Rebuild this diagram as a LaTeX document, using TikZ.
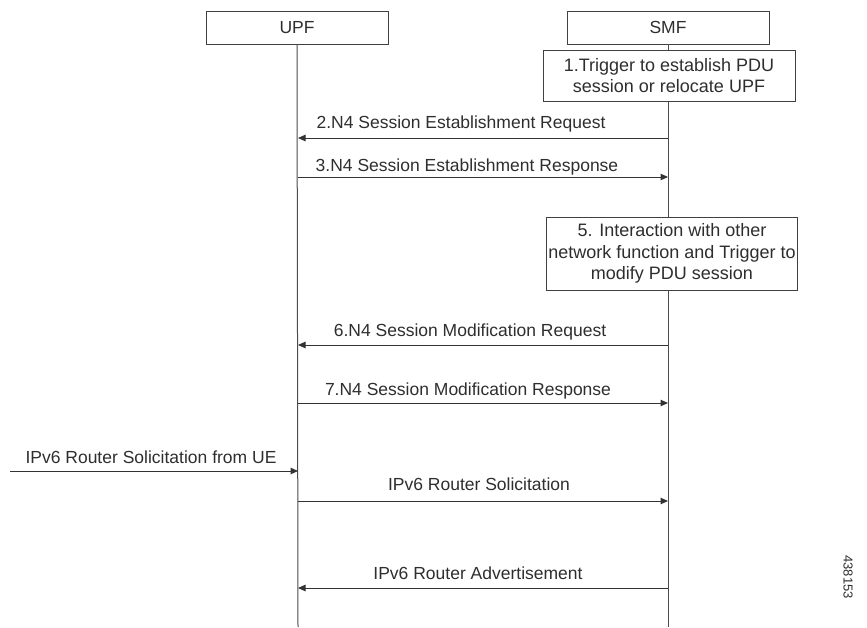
\documentclass[tikz,border=0pt]{standalone}
\usepackage{fontspec}
\setmainfont{Liberation Sans}
\usetikzlibrary{arrows.meta}
\begin{document}
\begin{tikzpicture}[x=1pt,y=-1pt,
  every node/.style={font=\fontsize{17.5}{21}\selectfont, text=black!82},
  actor/.style={draw=black!75, line width=0.9pt, fill=white, minimum height=33pt, inner sep=0pt},
  stepbox/.style={draw=black!75, line width=0.9pt, fill=white, align=center, inner sep=2pt, font=\fontsize{18}{21.5}\selectfont},
  life/.style={draw=black!70, line width=1pt},
  msg/.style={draw=black!80, line width=1pt, -{Triangle[length=7.5pt,width=6.5pt]}},
  lbl/.style={inner sep=0pt, anchor=base}]
\useasboundingbox (0,0) rectangle (867,627);
% lifelines
\coordinate (ubot) at (298,627);
\coordinate (sbot) at (668,627);
\node[actor, minimum width=182pt] (upf) at (297,27.5) {UPF};
\node[actor, minimum width=202pt] (smf) at (668,27.5) {SMF};
\draw[life] (upf.south) -- (ubot);
\draw[life] (smf.south) -- (sbot);
\node[stepbox, minimum width=252pt, minimum height=51pt] (s1) at (669,75.5) {1.Trigger to establish PDU\\session or relocate UPF};
\node[stepbox, minimum width=248pt, minimum height=73pt] (s5) at (672,253.5) {5. Interaction with other\\network function and Trigger to\\modify PDU session};
% message anchors
\coordinate (u2) at (298,138); \coordinate (m2) at (668,138);
\coordinate (u3) at (298,177); \coordinate (m3) at (668,177);
\coordinate (u6) at (298,345); \coordinate (m6) at (668,345);
\coordinate (u7) at (298,403); \coordinate (m7) at (668,403);
\coordinate (ue) at (10,471);  \coordinate (uin) at (298,471);
\coordinate (u8) at (298,501); \coordinate (m8) at (668,501);
\coordinate (u9) at (298,588); \coordinate (m9) at (668,588);
\draw[msg] (m2) -- node[lbl, xshift=-22pt, yshift=10pt] (l2) {2.N4 Session Establishment Request} (u2);
\draw[msg] (u3) -- node[lbl, xshift=-16pt, yshift=6pt] (l3) {3.N4 Session Establishment Response} (m3);
\draw[msg] (m6) -- node[lbl, xshift=-13pt, yshift=9pt] (l6) {6.N4 Session Modification Request} (u6);
\draw[msg] (u7) -- node[lbl, xshift=-15pt, yshift=8pt] (l7) {7.N4 Session Modification Response} (m7);
\draw[msg] (ue) -- node[lbl, xshift=-3pt, yshift=8pt] (l0) {IPv6 Router Solicitation from UE} (uin);
\draw[msg] (u8) -- node[lbl, xshift=-4pt, yshift=11pt] (l8) {IPv6 Router Solicitation} (m8);
\draw[msg] (m9) -- node[lbl, xshift=-5pt, yshift=9pt] (l9) {IPv6 Router Advertisement} (u9);
\node[rotate=-90, font=\fontsize{13}{15}\selectfont] (fig) at (848,577) {438153};
\end{tikzpicture}
\end{document}
